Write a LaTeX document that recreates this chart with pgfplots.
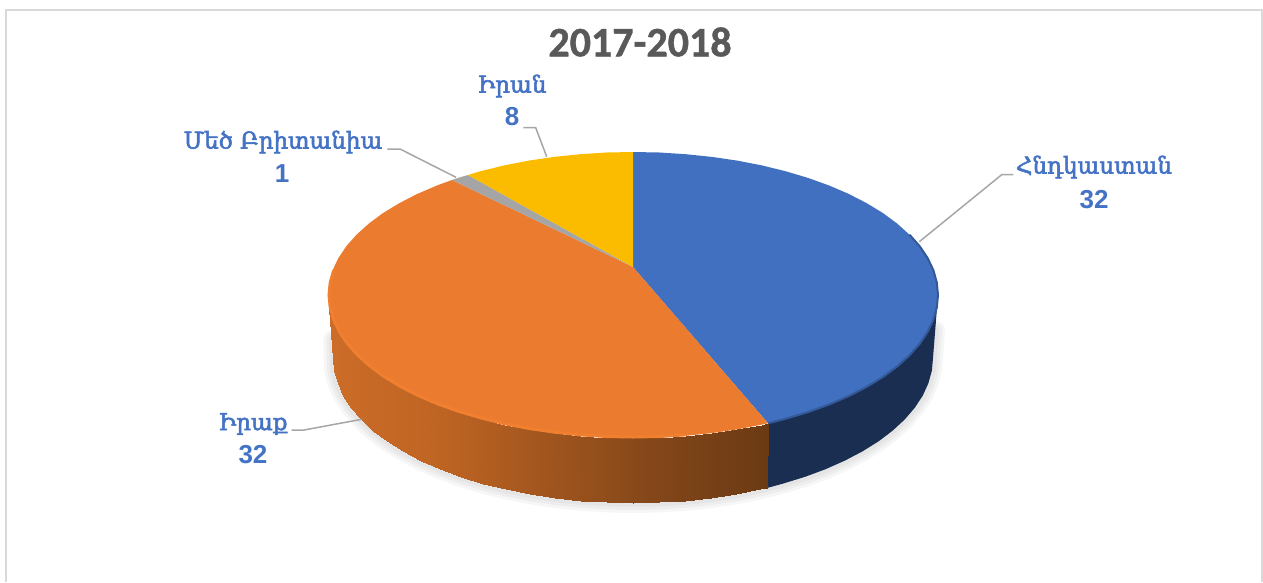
\documentclass[border=0pt]{standalone}
\usepackage{fontspec}
\setmainfont{Liberation Sans}
\newfontfamily\titlefont[FakeBold=1]{Carlito}
\newfontfamily\armfont[FakeBold=2.5]{DejaVu Serif}
\usepackage{pgfplots}
\pgfplotsset{compat=1.18}

\definecolor{piblue}{HTML}{4170C0}
\definecolor{piorange}{HTML}{EA7B2F}
\definecolor{pirim}{HTML}{F08030}
\definecolor{pigray}{HTML}{A5A5A5}
\definecolor{piyellow}{HTML}{FBBC00}
\definecolor{sideblue}{HTML}{1A2E52}
\definecolor{labelblue}{HTML}{4472C4}
\definecolor{titlegray}{HTML}{595959}
\definecolor{framegray}{HTML}{D9D9D9}
\definecolor{leadergray}{HTML}{A6A6A6}

\pgfplotsset{
    leader/.style={draw=leadergray, line width=1.5pt},
    shadowline/.style={draw=black, opacity=0.035, line join=round, line cap=round},
}

\begin{document}
\begin{tikzpicture}
\begin{axis}[
    width=1263pt, height=582pt,
    scale only axis,
    hide axis,
    xmin=0, xmax=1263,
    ymin=0, ymax=582,
    y dir=reverse,
    point meta min=333, point meta max=767,
    colormap={sideorange}{rgb255=(204,108,40) rgb255=(190,100,35) rgb255=(160,85,30) rgb255=(130,70,25) rgb255=(107,58,20)},
]

% keeps the page as large as the whole chart area
\path (axis cs:0,0) rectangle (axis cs:1263,582);

% frame
\addplot[draw=framegray, line width=2pt] coordinates {(5.5,582) (5.5,10) (1262,10) (1262,582)};

% soft shadow under the disc
\pgfplotsinvokeforeach{20,14,8}{
\addplot[shadowline, line width=#1pt] coordinates {
    (333,340) (334.1,370.6) (337.6,383.2) (343.2,395.5) (351.1,407.6) (361.1,419.3) (373.2,430.5) (387.2,441.2)
    (403.2,451.2) (420.9,460.5) (440.2,469.1) (460.9,476.8) (483,483.6) (506.2,489.4) (530.4,494.3) (555.4,498.1)
    (580.9,500.8) (606.8,502.4) (633,503) (659.2,502.4) (685.1,500.8) (710.6,498.1) (735.6,494.3) (759.8,489.4)
    (783,483.6) (805.1,476.8) (825.8,469.1) (845.1,460.5) (862.8,451.2) (878.8,441.2) (892.8,430.5) (904.9,419.3)
    (914.9,407.6) (922.8,395.5) (928.4,383.2) (931.9,370.6) (933,358) (935,330)
};
}

% side of the blue slice
\addplot[fill=sideblue, draw=none] coordinates {
    (938,295) (936.8,307.5) (933.4,319.8) (927.6,332) (919.6,343.9) (909.4,355.4) (897.1,366.5) (882.9,377)
    (866.6,386.9) (848.7,396.1) (829.1,404.5) (808,412.1) (785.5,418.8) (768,423.2)
    (767,488) (783,483.6) (805.1,476.8) (825.8,469.1) (845.1,460.5) (862.8,451.2) (878.8,441.2) (892.8,430.5)
    (904.9,419.3) (914.9,407.6) (922.8,395.5) (928.4,383.2) (931.9,370.6) (933,358)
} -- cycle;

% side of the orange slice, shaded along x
\addplot[surf, shader=interp, mesh/rows=2, mesh/cols=25, point meta=x] coordinates {
    (768,423.2) (761.9,424.6) (737.3,429.4) (711.9,433.1) (685.9,435.8) (659.6,437.5) (633,438) (606.4,437.5)
    (580.1,435.8) (554.1,433.1) (528.7,429.4) (504.1,424.6) (480.5,418.8) (458,412.1) (436.9,404.5) (417.3,396.1)
    (399.4,386.9) (383.1,377) (368.9,366.5) (356.6,355.4) (346.4,343.9) (338.4,332) (332.6,319.8) (329.2,307.5) (328,295)

    (767,488) (759.8,489.4) (735.6,494.3) (710.6,498.1) (685.1,500.8) (659.2,502.4) (633,503) (606.8,502.4)
    (580.9,500.8) (555.4,498.1) (530.4,494.3) (506.2,489.4) (483,483.6) (460.9,476.8) (440.2,469.1) (420.9,460.5)
    (403.2,451.2) (387.2,441.2) (373.2,430.5) (361.1,419.3) (351.1,407.6) (343.2,395.5) (337.6,383.2) (334.1,370.6) (333,358)
};

% top faces
\addplot[fill=piblue, draw=none] coordinates {
    (633,267) (633,152) (659.6,152.5) (685.9,154.2) (711.9,156.9) (737.3,160.6) (761.9,165.4) (785.5,171.2)
    (808,177.9) (829.1,185.5) (848.7,193.9) (866.6,203.1) (882.9,213) (897.1,223.5) (909.4,234.6) (919.6,246.1)
    (927.6,258) (933.4,270.2) (936.8,282.5) (938,295) (936.8,307.5) (933.4,319.8) (927.6,332) (919.6,343.9)
    (909.4,355.4) (897.1,366.5) (882.9,377) (866.6,386.9) (848.7,396.1) (829.1,404.5) (808,412.1) (785.5,418.8) (768,423.2)
} -- cycle;

\addplot[fill=piorange, draw=none] coordinates {
    (633,267) (768,423.2) (761.9,424.6) (737.3,429.4) (711.9,433.1) (685.9,435.8) (659.6,437.5) (633,438)
    (606.4,437.5) (580.1,435.8) (554.1,433.1) (528.7,429.4) (504.1,424.6) (480.5,418.8) (458,412.1) (436.9,404.5)
    (417.3,396.1) (399.4,386.9) (383.1,377) (368.9,366.5) (356.6,355.4) (346.4,343.9) (338.4,332) (332.6,319.8)
    (329.2,307.5) (328,295) (329.2,282.5) (332.6,270.2) (338.4,258) (346.4,246.1) (356.6,234.6) (368.9,223.5)
    (383.1,213) (399.4,203.1) (417.3,193.9) (436.9,185.5) (452,180)
} -- cycle;

\addplot[fill=pigray, draw=none] coordinates {(633,267) (452,180) (458,177.9) (468,175)} -- cycle;

\addplot[fill=piyellow, draw=none] coordinates {
    (633,267) (468,175) (480.5,171.2) (504.1,165.4) (528.7,160.6) (554.1,156.9) (580.1,154.2) (606.4,152.5) (633,152)
} -- cycle;

% light rim of the orange top, darker rim of the blue top
\addplot[draw=pirim, line width=3pt, line cap=round] coordinates {
    (685.9,434.8) (659.6,436.5) (633,437) (606.4,436.5) (580.1,434.8) (554.1,432.1) (528.7,428.4)
    (504.1,423.6) (480.5,417.8) (458,411.1) (436.9,403.5) (417.3,395.1) (399.9,386.2) (383.8,376.3) (369.6,365.8)
    (357.4,354.8) (347.2,343.3) (339.3,331.5) (333.6,319.5) (330.2,307.3) (329,295) (330.2,282.7) (333.6,270.5)
};
\addplot[draw=piblue!65!sideblue, line width=2pt] coordinates {
    (909.4,234.6) (919.6,246.1) (927.6,258) (933.4,270.2) (936.8,282.5) (938,295) (936.8,307.5) (933.4,319.8)
    (927.6,332) (919.6,343.9) (909.4,355.4) (897.1,366.5) (882.9,377) (866.6,386.9) (848.7,396.1) (829.1,404.5)
    (808,412.1) (785.5,418.8) (768,423.2)
};

% leader lines
\addplot[leader] coordinates {(523.3,127.7) (535.7,127.7) (546.7,156.7)};
\addplot[leader] coordinates {(387.3,149) (400,149) (456,177.3)};
\addplot[leader] coordinates {(1013.3,174.7) (1001.7,174.7) (919.3,241.7)};
\addplot[leader] coordinates {(291.7,430) (304,430) (361.7,419.3)};

% texts
\node[text=titlegray, font=\titlefont\bfseries\fontsize{42}{42}\selectfont] at (axis cs:640,42) {2017-2018};

\node[text=labelblue, font=\armfont\fontsize{23}{23}\selectfont] at (axis cs:512,86) {Իրան};
\node[text=labelblue, font=\bfseries\fontsize{26}{26}\selectfont] at (axis cs:512,117) {8};
\node[text=labelblue, font=\armfont\fontsize{23}{23}\selectfont] at (axis cs:283,142) {Մեծ Բրիտանիա};
\node[text=labelblue, font=\bfseries\fontsize{26}{26}\selectfont] at (axis cs:282,174) {1};
\node[text=labelblue, font=\armfont\fontsize{23}{23}\selectfont] at (axis cs:1094,167) {Հնդկաստան};
\node[text=labelblue, font=\bfseries\fontsize{26}{26}\selectfont] at (axis cs:1094,200) {32};
\node[text=labelblue, font=\armfont\fontsize{23}{23}\selectfont] at (axis cs:253,424) {Իրաք};
\node[text=labelblue, font=\bfseries\fontsize{26}{26}\selectfont] at (axis cs:253,455) {32};

\end{axis}
\end{tikzpicture}
\end{document}
